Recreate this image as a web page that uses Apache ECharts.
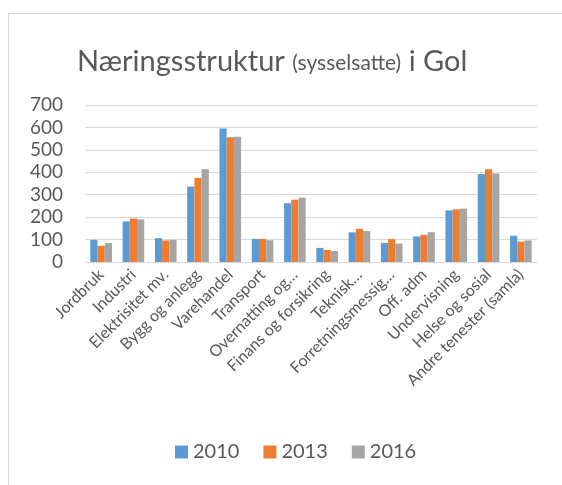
<!DOCTYPE html>
<html><head><meta charset="utf-8">
<script src="https://cdn.jsdelivr.net/npm/echarts@6/dist/echarts.min.js"></script>
<style>html,body{margin:0;padding:0;background:#fff}#c{width:562px;height:485px}</style>
</head><body><div id="c"></div>
<script>
const categories = ["Jordbruk","Industri","Elektrisitet mv.","Bygg og anlegg","Varehandel","Transport","Overnatting og…","Finans og forsikring","Teknisk…","Forretningsmessig…","Off. adm","Undervisning","Helse og sosial","Andre tenester (samla)"];
const s2010 = [99,181,106,336,595,103,262,63,132,85,114,230,392,117];
const s2013 = [72,194,96,375,556,103,278,54,148,102,121,235,414,91];
const s2016 = [84,190,99,414,558,97,287,49,138,82,133,238,395,96];
const yTicks = [0,100,200,300,400,500,600,700];
const font = 'Lato, "Open Sans", sans-serif';
const chart = echarts.init(document.getElementById('c'));
chart.setOption({
  animation:false,
  backgroundColor:'#fff',
  title:{text:'{a|Næringsstruktur }{b|(sysselsatte)}{a| i Gol}',left:72,top:42,
    textStyle:{fontWeight:'normal',rich:{a:{fontSize:29,fontWeight:'normal',color:'#595959',fontFamily:font},b:{fontSize:21,fontWeight:'normal',color:'#595959',fontFamily:font,padding:[4,0,0,0]}}}},
  legend:{bottom:18,left:170,itemWidth:13,itemHeight:13,itemGap:24,icon:'rect',
    textStyle:{fontSize:20,color:'#595959',fontFamily:font}},
  grid:{left:85,right:25,top:105,bottom:223,containLabel:false},
  xAxis:{type:'category',data:categories,
    axisLine:{lineStyle:{color:'#d9d9d9'}},axisTick:{show:false},
    axisLabel:{rotate:45,interval:0,fontSize:16,color:'#595959',fontFamily:font,margin:10}},
  yAxis:{type:'value',min:0,max:700,interval:100,
    axisLabel:{fontSize:19,color:'#595959',fontFamily:font,margin:22,
      formatter:v=>yTicks.includes(v)?String(v):''},
    splitLine:{lineStyle:{color:'#d9d9d9',width:1}},axisLine:{show:false}},
  series:[
    {name:'2010',type:'bar',data:s2010,itemStyle:{color:'#5B9BD5'},barGap:'0%',barCategoryGap:'33%'},
    {name:'2013',type:'bar',data:s2013,itemStyle:{color:'#ED7D31'},barGap:'0%',barCategoryGap:'33%'},
    {name:'2016',type:'bar',data:s2016,itemStyle:{color:'#A5A5A5'},barGap:'0%',barCategoryGap:'33%'}
  ],
  graphic:[
    {type:'line',shape:{x1:8,y1:13.5,x2:562,y2:13.5},style:{stroke:'#d9d9d9',lineWidth:1}},
    {type:'line',shape:{x1:8.5,y1:13,x2:8.5,y2:485},style:{stroke:'#d9d9d9',lineWidth:1}}
  ]
});
</script></body></html>
